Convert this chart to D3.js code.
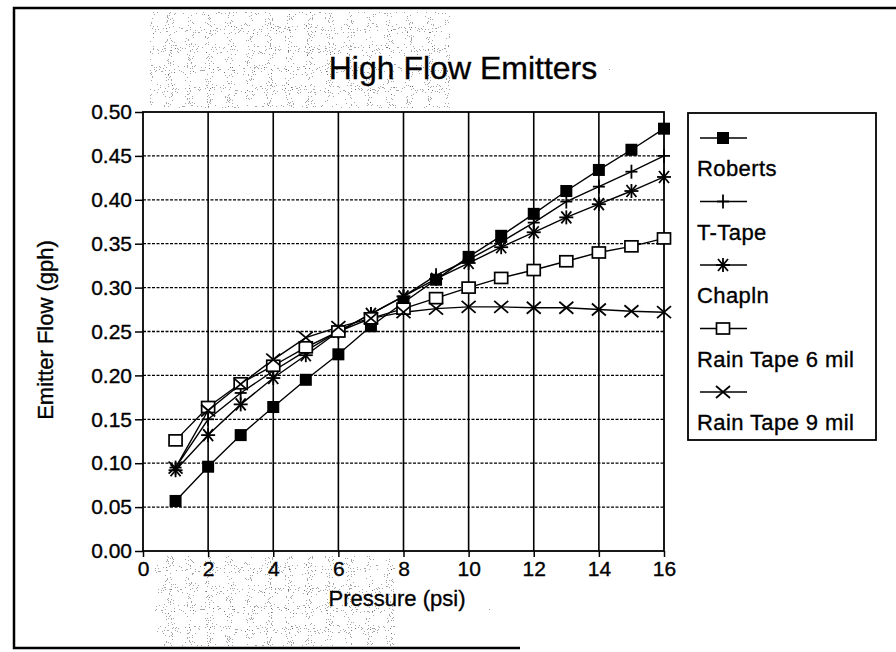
<!DOCTYPE html>
<html>
<head>
<meta charset="utf-8">
<script src="https://cdn.jsdelivr.net/npm/d3@7"></script>
<style>
  html, body { margin: 0; padding: 0; background: #fff; }
  svg { display: block; font-family: "Liberation Sans", Arial, sans-serif; }
  text { stroke: #000; stroke-width: 0.35px; }
</style>
</head>
<body>
<svg id="chart" width="896" height="652"></svg>
<script>
// ---- data ----
const pressure = [1, 2, 3, 4, 5, 6, 7, 8, 9, 10, 11, 12, 13, 14, 15, 16];
const roberts   = [0.057, 0.096, 0.132, 0.164, 0.195, 0.224, 0.256, 0.283, 0.309, 0.335, 0.359, 0.384, 0.410, 0.434, 0.457, 0.481];
const tTape     = [0.095, 0.150, 0.180, 0.205, 0.228, 0.250, 0.270, 0.290, 0.314, 0.332, 0.352, 0.374, 0.398, 0.415, 0.432, 0.450];
const chapin    = [0.092, 0.132, 0.167, 0.197, 0.223, 0.250, 0.270, 0.290, 0.310, 0.328, 0.346, 0.363, 0.380, 0.395, 0.410, 0.426];
const rainTape6 = [0.126, 0.164, 0.191, 0.211, 0.232, 0.250, 0.265, 0.276, 0.288, 0.300, 0.311, 0.320, 0.330, 0.340, 0.347, 0.356];
const rainTape9 = [0.095, 0.160, 0.190, 0.218, 0.243, 0.255, 0.265, 0.272, 0.276, 0.278, 0.278, 0.277, 0.277, 0.275, 0.273, 0.272];
const seriesNames = ["Roberts", "T-Tape", "Chapln", "Rain Tape 6 mil", "Rain Tape 9 mil"];
const markerTypes = ["filledSquare", "plus", "asterisk", "openSquare", "cross"];
const xTicks = [0, 2, 4, 6, 8, 10, 12, 14, 16];
const yTicks = [0, 0.05, 0.10, 0.15, 0.20, 0.25, 0.30, 0.35, 0.40, 0.45, 0.50];
const title = "High Flow Emitters";
const xTitle = "Pressure (psi)";
const yTitle = "Emitter Flow (gph)";

const seriesValues = [roberts, tTape, chapin, rainTape6, rainTape9];

// ---- layout ----
const svg = d3.select("#chart");
const L = 143, R = 664, T = 112, B = 551;
const x = d3.scaleLinear().domain([0, 16]).range([L, R]);
const y = d3.scaleLinear().domain([0, 0.5]).range([B, T]);

// background speckle (scanned look)
const defs = svg.append("defs");
function speckFilter(id, seed, table) {
  const f = defs.append("filter").attr("id", id).attr("x", 0).attr("y", 0).attr("width", 1).attr("height", 1);
  f.append("feTurbulence").attr("type", "fractalNoise").attr("baseFrequency", 0.95).attr("numOctaves", 1).attr("seed", seed).attr("result", "n");
  f.append("feColorMatrix").attr("in", "n").attr("type", "matrix")
    .attr("values", "0 0 0 0 0  0 0 0 0 0  0 0 0 0 0  1 0 0 0 0").attr("result", "a");
  f.append("feComponentTransfer").attr("in", "a")
    .append("feFuncA").attr("type", "discrete").attr("tableValues", table);
}
speckFilter("speck", 4, "0 0 0 0 0 0 0 0 0.35 0.55 0.7 0.8");
speckFilter("speckLight", 9, "0 0 0 0 0 0 0 0 0 0 0.4 0.6");

svg.append("rect").attr("x", 14).attr("y", 8).attr("width", 882).attr("height", 640).attr("fill", "#fff");
svg.append("rect").attr("x", 14).attr("y", 8).attr("width", 882).attr("height", 640)
  .attr("filter", "url(#speckLight)");
svg.append("rect").attr("x", 150).attr("y", 12).attr("width", 300).attr("height", 96)
  .attr("filter", "url(#speck)");
svg.append("rect").attr("x", 155).attr("y", 556).attr("width", 240).attr("height", 90)
  .attr("filter", "url(#speck)");

// outer frame
svg.append("path")
  .attr("d", `M896,8 H14 V648 H520`)
  .attr("fill", "none").attr("stroke", "#000").attr("stroke-width", 2.5);

// plot background
svg.append("rect").attr("x", L).attr("y", T).attr("width", R - L).attr("height", B - T).attr("fill", "#fff");

// grid
const g = svg.append("g");
g.selectAll("line.hg").data(yTicks.filter(v => v > 0 && v < 0.5)).join("line")
  .attr("x1", L).attr("x2", R).attr("y1", d => y(d)).attr("y2", d => y(d))
  .attr("stroke", "#000").attr("stroke-width", 1.3).attr("stroke-dasharray", "3,1.5");
g.selectAll("line.vg").data(xTicks.filter(v => v > 0 && v < 16)).join("line")
  .attr("x1", d => x(d)).attr("x2", d => x(d)).attr("y1", T).attr("y2", B)
  .attr("stroke", "#000").attr("stroke-width", 1.6);

// plot border
svg.append("rect").attr("x", L).attr("y", T).attr("width", R - L).attr("height", B - T)
  .attr("fill", "none").attr("stroke", "#000").attr("stroke-width", 1.8);

// axes
const yAxis = svg.append("g").attr("transform", `translate(${L},0)`)
  .call(d3.axisLeft(y).tickValues(yTicks).tickFormat(d3.format(".2f")).tickSize(8).tickPadding(3));
const xAxis = svg.append("g").attr("transform", `translate(0,${B})`)
  .call(d3.axisBottom(x).tickValues(xTicks).tickFormat(d3.format("d")).tickSize(6).tickPadding(4));
[yAxis, xAxis].forEach(a => {
  a.select(".domain").remove();
  a.selectAll(".tick line").attr("stroke", "#000").attr("stroke-width", 1.5);
  a.selectAll(".tick text").attr("fill", "#000").style("font-size", "21px")
    .style("font-family", "'Liberation Sans', Arial, sans-serif");
});

// titles
svg.append("text").attr("x", 463).attr("y", 79).attr("text-anchor", "middle")
  .style("font-size", "32px").text(title);
svg.append("text").attr("x", 397).attr("y", 606).attr("text-anchor", "middle")
  .style("font-size", "22px").text(xTitle);
svg.append("text").attr("transform", "translate(53,330) rotate(-90)").attr("text-anchor", "middle")
  .style("font-size", "22px").text(yTitle);

// markers
function drawMarker(sel, type, cx, cy) {
  const s = sel.append("g").attr("transform", `translate(${cx},${cy})`);
  const line = (x1, y1, x2, y2) => s.append("line").attr("x1", x1).attr("y1", y1).attr("x2", x2).attr("y2", y2)
    .attr("stroke", "#000").attr("stroke-width", 1.8);
  if (type === "filledSquare") {
    s.append("rect").attr("x", -6).attr("y", -6).attr("width", 12).attr("height", 12).attr("fill", "#000");
  } else if (type === "openSquare") {
    s.append("rect").attr("x", -6.5).attr("y", -5.5).attr("width", 13).attr("height", 11)
      .attr("fill", "#fff").attr("stroke", "#000").attr("stroke-width", 1.7);
  } else if (type === "plus") {
    line(-6, 0, 6, 0); line(0, -7, 0, 7);
  } else if (type === "asterisk") {
    line(-7, 0, 7, 0); line(-5, -6, 5, 6); line(-5, 6, 5, -6); line(0, -7, 0, 7);
  } else if (type === "cross") {
    line(-7, -6, 7, 6); line(-7, 6, 7, -6);
  }
}

const lineGen = d3.line().x((d, i) => x(pressure[i])).y(d => y(d));
const plot = svg.append("g");
seriesValues.forEach(vals => {
  plot.append("path").datum(vals).attr("d", lineGen)
    .attr("fill", "none").attr("stroke", "#000").attr("stroke-width", 1.4);
});
seriesValues.forEach((vals, si) => {
  vals.forEach((v, i) => drawMarker(plot, markerTypes[si], x(pressure[i]), y(v)));
});

// legend
const lg = svg.append("g");
lg.append("rect").attr("x", 688).attr("y", 113).attr("width", 188).attr("height", 327)
  .attr("fill", "#fff").attr("stroke", "#000").attr("stroke-width", 1.8);
seriesNames.forEach((name, i) => {
  const sy = 138 + i * 63.5;
  lg.append("line").attr("x1", 700).attr("x2", 747).attr("y1", sy).attr("y2", sy)
    .attr("stroke", "#000").attr("stroke-width", 1.4);
  drawMarker(lg, markerTypes[i], 723, sy);
  lg.append("text").attr("x", 697).attr("y", sy + 38).style("font-size", "22px")
    .style("letter-spacing", "0.4px").text(name);
});
</script>
</body>
</html>
